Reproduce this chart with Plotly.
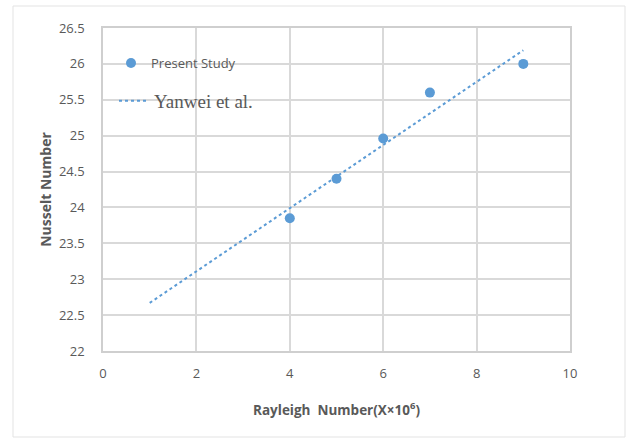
import plotly.graph_objects as go

# Data
rayleigh = [4, 5, 6, 7, 9]
nusselt = [23.85, 24.4, 24.96, 25.6, 26.0]
trend_x = [1, 9]
trend_y = [22.67, 26.19]
x_ticks = [0, 2, 4, 6, 8, 10]
y_ticks = [22, 22.5, 23, 23.5, 24, 24.5, 25, 25.5, 26, 26.5]

W, H = 634, 439
L, R, T, B = 103, 64, 28, 88
pw, ph = W - L - R, H - T - B

def px2paper_x(px):
    return (px - L) / pw

def px2paper_y(py):
    return 1 - (py - T) / ph

blue = "#5b9bd5"
grey_text = "#595959"
grid = "#d9d9d9"

fig = go.Figure()
fig.add_trace(go.Scatter(
    x=rayleigh, y=nusselt, mode="markers", name="Present Study",
    marker=dict(color=blue, size=10), legend="legend",
))
fig.add_trace(go.Scatter(
    x=trend_x, y=trend_y, mode="lines", name="Yanwei et al.",
    line=dict(color=blue, width=2, dash="dot"), legend="legend2",
))

fig.update_layout(
    width=W, height=H,
    margin=dict(l=L, r=R, t=T, b=B),
    paper_bgcolor="white", plot_bgcolor="white",
    font=dict(family="Open Sans, sans-serif", color=grey_text, size=13),
    legend=dict(
        x=px2paper_x(111), y=px2paper_y(48), xanchor="left", yanchor="top",
        bgcolor="rgba(0,0,0,0)", font=dict(size=13, color=grey_text,
        family="Open Sans, sans-serif"),
        itemwidth=30, tracegroupgap=0,
    ),
    legend2=dict(
        x=px2paper_x(114), y=px2paper_y(82), xanchor="left", yanchor="top",
        bgcolor="rgba(0,0,0,0)", font=dict(size=19, color=grey_text,
        family="Liberation Serif, serif"),
        itemwidth=30,
    ),
    showlegend=True,
    xaxis=dict(
        range=[0, 10], tickvals=x_ticks, ticktext=[str(v) for v in x_ticks],
        showgrid=True, gridcolor=grid, gridwidth=1.5,
        showline=True, linecolor="#cfcfcf", linewidth=1.5, mirror=True,
        zeroline=False, ticks="", ticklabelstandoff=10,
        title=dict(text="<b>Rayleigh  Number(X×10<sup>6</sup>)</b>",
                   font=dict(size=13.5, color=grey_text), standoff=24),
    ),
    yaxis=dict(
        range=[22, 26.5], tickvals=y_ticks, ticktext=[f"{v:g}" for v in y_ticks],
        showgrid=True, gridcolor=grid, gridwidth=1.5,
        showline=True, linecolor="#cfcfcf", linewidth=1.5, mirror=True,
        zeroline=False, ticks="", ticklabelstandoff=14,
        title=dict(text="<b>Nusselt Number</b>",
                   font=dict(size=14, color=grey_text), standoff=4),
    ),
    shapes=[dict(
        type="rect", xref="paper", yref="paper",
        x0=px2paper_x(13), x1=px2paper_x(625),
        y0=px2paper_y(437), y1=px2paper_y(6),
        line=dict(color="#e3e3e3", width=1), layer="below",
    )],
)

fig.write_html("out.html")
